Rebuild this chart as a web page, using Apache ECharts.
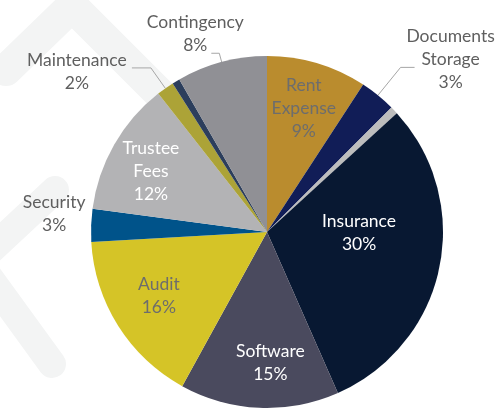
<!DOCTYPE html>
<html>
<head>
<meta charset="utf-8">
<script src="https://cdn.jsdelivr.net/npm/echarts@6/dist/echarts.min.js"></script>
<style>
  html, body { margin: 0; padding: 0; background: #fff; }
  #chart { width: 497px; height: 409px; }
</style>
</head>
<body>
<div id="chart"></div>
<script>
// slices, clockwise from 12 o'clock
const NAMES = ['Rent\nExpense', 'Documents\nStorage', '', 'Insurance', 'Software',
  'Audit', 'Security', 'Trustee\nFees', 'Maintenance', '', 'Contingency'];
const VALUES = [9.2, 3.3, 0.7, 30.2, 14.6, 16.1, 3.0, 12.3, 1.6, 0.7, 8.3];

const COLORS = ['#ba8c2e', '#111d57', '#bdbdbd', '#081832', '#4a4a5e',
  '#d5c427', '#00538a', '#b3b3b5', '#aca337', '#2c3e5c', '#909095'];

// where each label goes
const OUTSIDE = ['Documents\nStorage', 'Security', 'Maintenance', 'Contingency'];
const RING = ['Rent\nExpense', 'Software', 'Audit', 'Trustee\nFees'];
const DARK_TEXT = ['Rent\nExpense', 'Audit'];
const LINE_LEN = {
  'Documents\nStorage': [36, 14],
  'Maintenance': [25, 19],
  'Contingency': [9, 8],
  'Security': [0, 0]
};
// nudge from the default anchor to the centre of the text block
const LABEL_SHIFT = {
  'Contingency': [-11, -19],
  'Maintenance': [-50, 4],
  'Documents\nStorage': [31, -8],
  'Security': [-32, -12],
  'Insurance': [3, -18],
  'Software': [9, 2],
  'Audit': [1, -5],
  'Trustee\nFees': [-4, 3]
};

const FONT = 'Lato';
const CENTER = [267, 232];

function labelText(p) {
  return p.name + '\n' + Math.round(p.percent) + '%';
}

function moveLabel(p) {
  const name = NAMES[p.dataIndex];
  const s = LABEL_SHIFT[name];
  if (!s) return {};
  const r = p.labelRect;
  let ax = r.x + r.width / 2;
  if (p.align === 'right') ax = r.x + r.width;
  if (p.align === 'left') ax = r.x;
  const ay = r.y + r.height / 2;
  const out = { x: ax + s[0], y: ay + s[1], align: 'center', verticalAlign: 'middle' };
  if (p.labelLinePoints) out.labelLinePoints = p.labelLinePoints;
  return out;
}

const mainData = NAMES.map((name, i) => {
  const item = { name: name, value: VALUES[i], itemStyle: { color: COLORS[i] } };
  if (OUTSIDE.includes(name)) {
    const len = LINE_LEN[name];
    item.label = { show: true, position: 'outside' };
    item.labelLine = { show: len[0] > 0, length: len[0], length2: len[1] };
  } else if (name === 'Insurance') {
    item.label = { show: true, position: 'inside', color: '#ffffff' };
  } else {
    item.label = { show: false };
    item.labelLine = { show: false };
  }
  return item;
});

const ringData = NAMES.map((name, i) => ({
  name: name,
  value: VALUES[i],
  label: {
    show: RING.includes(name),
    color: DARK_TEXT.includes(name) ? '#6d6d6d' : '#ffffff'
  }
}));

const chart = echarts.init(document.getElementById('chart'));

chart.setOption({
  animation: false,
  backgroundColor: '#ffffff',
  // faint watermark behind the pie
  graphic: [
    {
      type: 'polyline', z: -10, silent: true,
      shape: { points: [[6, 70], [72, 6], [260, 194]] },
      style: { fill: null, stroke: '#f3f4f4', lineWidth: 32, lineCap: 'round', lineJoin: 'round' }
    },
    {
      type: 'polyline', z: -10, silent: true,
      shape: { points: [[55, 190], [-22, 262], [52, 364]] },
      style: { fill: null, stroke: '#f3f4f4', lineWidth: 28, lineCap: 'round', lineJoin: 'round' }
    }
  ],
  series: [
    {
      type: 'pie',
      center: CENTER,
      radius: [0, 176],
      startAngle: 90,
      clockwise: true,
      avoidLabelOverlap: false,
      silent: true,
      label: {
        formatter: labelText,
        fontFamily: FONT,
        fontSize: 17.5,
        lineHeight: 23,
        color: '#5f5f5f'
      },
      labelLine: {
        lineStyle: { color: '#a6a6a6', width: 1 },
        smooth: false
      },
      labelLayout: moveLabel,
      data: mainData
    },
    {
      type: 'pie',
      center: CENTER,
      radius: [76, 176],
      startAngle: 90,
      clockwise: true,
      avoidLabelOverlap: false,
      silent: true,
      itemStyle: { color: 'rgba(0,0,0,0)' },
      label: {
        position: 'inside',
        formatter: labelText,
        fontFamily: FONT,
        fontSize: 17.5,
        lineHeight: 23
      },
      labelLine: { show: false },
      labelLayout: moveLabel,
      data: ringData
    }
  ]
});
</script>
</body>
</html>
